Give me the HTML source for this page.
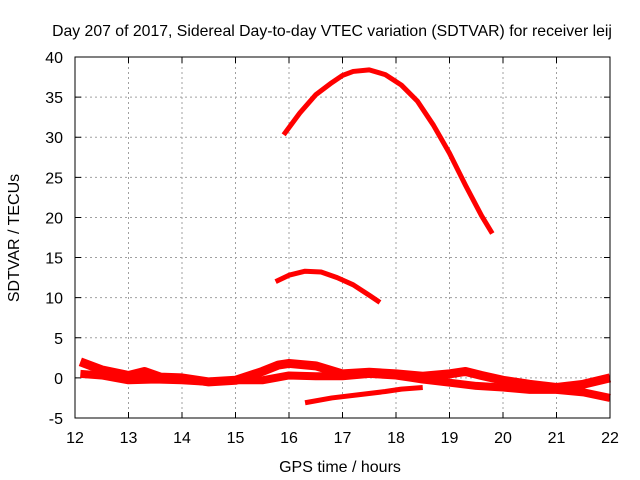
<!DOCTYPE html>
<html><head><meta charset="utf-8"><style>
body{margin:0;background:#fff;}
svg{display:block;font-family:"Liberation Sans",sans-serif;}
</style></head><body>
<svg id="chart" width="640" height="480">
<text x="332" y="36" font-size="15.8" text-anchor="middle">Day 207 of 2017, Sidereal Day-to-day VTEC variation (SDTVAR) for receiver leij</text>
<text x="340" y="472" font-size="16" text-anchor="middle">GPS time / hours</text>
<text transform="translate(19,238) rotate(-90)" font-size="16" text-anchor="middle">SDTVAR / TECUs</text>
<g id="grid"></g>
<g id="ticks"></g>
<g id="series"></g>
<rect x="75" y="57" width="535" height="361" fill="none" stroke="#000" stroke-width="1"/>
</svg>
<script>
const xTicks=[12,13,14,15,16,17,18,19,20,21,22];
const yTicks=[-5,0,5,10,15,20,25,30,35,40];
const arcX=[15.9,16.2,16.5,16.8,17.0,17.2,17.5,17.8,18.1,18.4,18.7,19.0,19.3,19.6,19.8];
const arcY=[30.3,33,35.3,36.8,37.7,38.2,38.4,37.8,36.5,34.5,31.5,28,24,20.2,18];
const midX=[15.75,16.0,16.3,16.6,16.9,17.2,17.5,17.7];
const midY=[12,12.8,13.3,13.2,12.5,11.6,10.3,9.4];
const lowX=[16.3,16.8,17.3,17.8,18.1,18.5];
const lowY=[-3.1,-2.5,-2.1,-1.7,-1.4,-1.2];
const band1X=[12.1,12.5,13,13.3,13.6,14,14.5,15,15.5,15.8,16,16.5,17,17.5,18,18.5,19,19.3,19.6,20,20.5,21,21.5,22];
const band1Y=[2,1,0.3,0.8,0.1,0,-0.5,-0.3,0.8,1.6,1.8,1.5,0.5,0.7,0.5,0.2,0.5,0.8,0.3,-0.3,-0.8,-1.2,-0.8,0];
const band2X=[12.1,12.5,13,13.5,14,14.5,15,15.5,16,16.5,17,17.5,18,18.5,19,19.5,20,20.5,21,21.5,22];
const band2Y=[0.5,0.3,-0.3,-0.2,-0.3,-0.5,-0.3,-0.3,0.3,0.2,0.2,0.5,0.3,-0.2,-0.6,-1,-1.2,-1.5,-1.5,-1.8,-2.5];
const NS='http://www.w3.org/2000/svg';
const sx=v=>75+(v-12)*53.5;
const sy=v=>418-(v+5)*361/45;
const grid=document.getElementById('grid'),ticks=document.getElementById('ticks'),ser=document.getElementById('series');
function mk(tag,attrs,parent){const e=document.createElementNS(NS,tag);for(const k in attrs)e.setAttribute(k,attrs[k]);parent.appendChild(e);return e;}
xTicks.forEach(t=>{const x=sx(t);
 if(t>12&&t<22){const g=mk('line',{x1:x,x2:x,y1:57,y2:418,stroke:'#a0a0a0','stroke-dasharray':'2,3'},grid);
 }
 const tk=mk('path',{d:`M${x},418v-6M${x},57v6`,stroke:'#000'},ticks);
 
 const l=mk('text',{x:x,y:443,'font-size':16,'text-anchor':'middle'},ticks);l.textContent=t;
 });
yTicks.forEach(t=>{const y=sy(t);
 if(t>-5&&t<40){const g=mk('line',{x1:75,x2:610,y1:y,y2:y,stroke:'#a0a0a0','stroke-dasharray':'2,3'},grid);
 }
 const tk=mk('path',{d:`M75,${y}h6M610,${y}h-6`,stroke:'#000'},ticks);
 
 const l=mk('text',{x:63,y:y+6,'font-size':16,'text-anchor':'end'},ticks);l.textContent=t;
 });
function line(xs,ys,w,name){const p=mk('polyline',{points:xs.map((x,i)=>sx(x)+','+sy(ys[i])).join(' '),fill:'none',stroke:'#ff0000','stroke-width':w,'stroke-linejoin':'round'},ser);
 }
line(arcX,arcY,5,'series-arc');
line(midX,midY,5,'series-mid');
line(lowX,lowY,5,'series-low');
line(band1X,band1Y,9,'series-band-1');
line(band2X,band2Y,8,'series-band-2');
</script>
</body></html>
